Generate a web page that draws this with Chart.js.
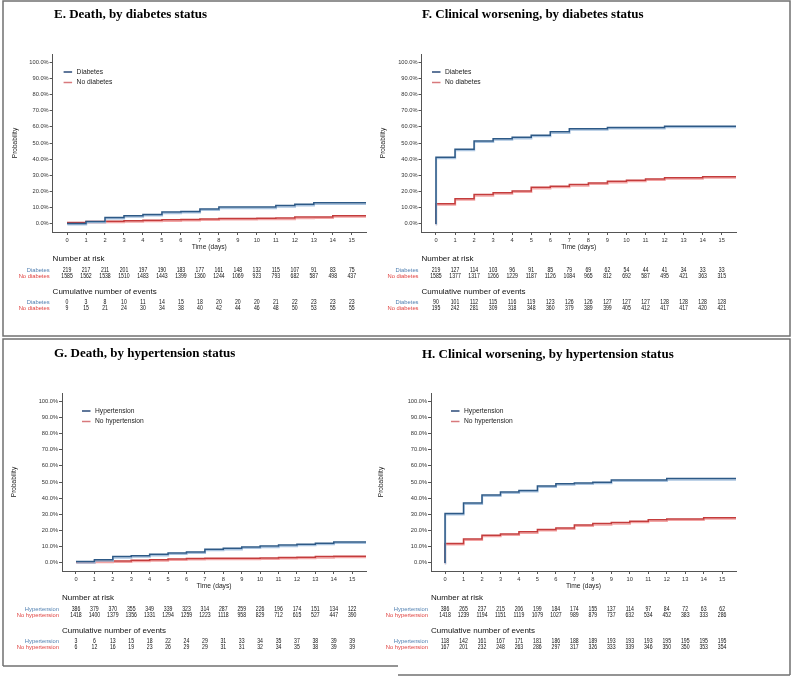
<!DOCTYPE html>
<html>
<head>
<meta charset="utf-8">
<script src="https://cdn.jsdelivr.net/npm/chart.js@4.4.1/dist/chart.umd.min.js"></script>
<style>
  body { margin: 0; background: #fff; width: 793px; height: 677px; position: relative; overflow: hidden; }
  canvas { position: absolute; }
  svg { position: absolute; left: 0; top: 0; }
</style>
</head>
<body>
<svg width="793" height="677">
  <rect x="3" y="1" width="787" height="335" fill="none" stroke="#707070" stroke-width="1.5"/>
  <polyline points="3,666 3,339 790,339 790,675" fill="none" stroke="#707070" stroke-width="1.5"/>
  <line x1="3" y1="666" x2="398" y2="666" stroke="#707070" stroke-width="1.5"/>
  <line x1="398" y1="675" x2="790" y2="675" stroke="#707070" stroke-width="1.5"/>
</svg>
<canvas id="panelE" width="392" height="332" style="left:4px;top:2px"></canvas>
<canvas id="panelF" width="414" height="332" style="left:376px;top:2px"></canvas>
<canvas id="panelG" width="392" height="329" style="left:4px;top:341px"></canvas>
<canvas id="panelH" width="414" height="329" style="left:376px;top:341px"></canvas>
<script>
// time axis (days) and y ticks
const days = [0, 1, 2, 3, 4, 5, 6, 7, 8, 9, 10, 11, 12, 13, 14, 15];
const lastDay = 15.75;
const yTicks = [0, 10, 20, 30, 40, 50, 60, 70, 80, 90, 100];

// E. Death, by diabetes status (probability %, value from each day on)
const deathDiab   = [0.3, 1.5, 4.0, 5.0, 5.8, 7.3, 7.7, 9.2, 10.4, 10.4, 10.4, 11.3, 12.1, 13.0, 13.0, 13.0];
const deathNoDiab = [0.8, 1.5, 1.7, 2.0, 2.3, 2.5, 2.8, 3.1, 3.3, 3.4, 3.5, 3.6, 4.2, 4.3, 5.0, 5.0];
const riskDiabE   = [219, 217, 211, 201, 197, 190, 183, 177, 161, 148, 132, 115, 107, 91, 83, 75];
const riskNoDiabE = [1585, 1562, 1538, 1510, 1483, 1443, 1399, 1360, 1244, 1069, 923, 793, 682, 587, 498, 437];
const evDiabE     = [0, 3, 8, 10, 11, 14, 15, 18, 20, 20, 20, 21, 22, 23, 23, 23];
const evNoDiabE   = [9, 15, 21, 24, 30, 34, 38, 40, 42, 44, 46, 48, 50, 53, 55, 55];

// F. Clinical worsening, by diabetes status
const worseDiab   = [41.2, 46.2, 51.2, 52.7, 53.5, 54.8, 56.9, 58.8, 58.8, 59.6, 59.6, 59.6, 60.4, 60.4, 60.4, 60.4];
const worseNoDiab = [12.5, 15.6, 18.1, 19.3, 20.4, 22.6, 23.3, 24.3, 25.3, 26.3, 27.0, 27.8, 28.6, 28.6, 29.2, 29.2];
const riskDiabF   = [219, 127, 114, 103, 96, 91, 85, 79, 69, 62, 54, 44, 41, 34, 33, 33];
const riskNoDiabF = [1585, 1377, 1317, 1266, 1229, 1187, 1126, 1084, 965, 812, 692, 587, 495, 421, 363, 315];
const evDiabF     = [90, 101, 112, 115, 116, 119, 123, 126, 126, 127, 127, 127, 128, 128, 128, 128];
const evNoDiabF   = [195, 242, 281, 309, 318, 348, 360, 379, 389, 399, 405, 412, 417, 417, 420, 421];

// G. Death, by hypertension status
const deathHyp    = [0.8, 2.0, 3.9, 4.5, 5.3, 6.1, 6.7, 8.4, 9.0, 9.8, 10.4, 11.0, 11.6, 12.2, 12.9, 12.9];
const deathNoHyp  = [0.6, 1.0, 1.2, 1.6, 2.0, 2.4, 2.7, 2.9, 2.9, 2.9, 3.1, 3.3, 3.5, 3.9, 4.1, 4.1];
const riskHypG    = [386, 379, 370, 355, 349, 339, 323, 314, 287, 259, 226, 196, 174, 151, 134, 122];
const riskNoHypG  = [1418, 1400, 1379, 1356, 1331, 1294, 1259, 1223, 1118, 958, 829, 712, 615, 527, 447, 390];
const evHypG      = [3, 6, 13, 15, 18, 22, 24, 29, 31, 33, 34, 35, 37, 38, 39, 39];
const evNoHypG    = [6, 12, 16, 19, 23, 26, 29, 29, 31, 31, 32, 34, 35, 38, 39, 39];

// H. Clinical worsening, by hypertension status
const worseHyp    = [30.6, 37.0, 42.0, 43.8, 44.8, 47.5, 48.9, 49.4, 49.8, 51.3, 51.3, 51.3, 52.1, 52.1, 52.1, 52.1];
const worseNoHyp  = [12.0, 14.8, 17.1, 17.9, 19.2, 20.6, 21.6, 23.5, 24.3, 24.9, 25.8, 26.6, 27.1, 27.1, 27.9, 27.9];
const riskHypH    = [386, 265, 237, 215, 206, 199, 184, 174, 155, 137, 114, 97, 84, 72, 63, 62];
const riskNoHypH  = [1418, 1239, 1194, 1151, 1119, 1079, 1027, 989, 879, 737, 632, 534, 452, 383, 333, 286];
const evHypH      = [118, 142, 161, 167, 171, 181, 186, 188, 189, 193, 193, 193, 195, 195, 195, 195];
const evNoHypH    = [167, 201, 232, 248, 263, 286, 297, 317, 326, 333, 339, 346, 350, 350, 353, 354];

const BLUE = '#2d5986', BLUE_LIGHT = '#a9c3df', RED = '#c43c3c', RED_LIGHT = '#f3a5a5';
const LBL_BLUE = '#4f7fb0', LBL_RED = '#e0413f';

function steps(vals, fromZero) {
  const pts = fromZero ? [{ x: 0, y: 0 }] : [];
  vals.forEach((v, i) => pts.push({ x: days[i], y: v }));
  pts.push({ x: lastDay, y: vals[vals.length - 1] });
  return pts;
}

// light line under each curve
const lineShadow = {
  id: 'lineShadow',
  beforeDatasetDraw(chart, args) {
    const ds = chart.data.datasets[args.index];
    const c = chart.ctx;
    c.save();
    c.shadowColor = ds.shadowColor;
    c.shadowOffsetY = 1.3;
    c.shadowOffsetX = 0.4;
    c.shadowBlur = 0;
  },
  afterDatasetDraw(chart) { chart.ctx.restore(); }
};

function narrowText(ctx, txt, x, y) {
  ctx.save();
  ctx.translate(x, y);
  ctx.scale(0.78, 1);
  ctx.fillText(txt, 0, 0);
  ctx.restore();
}

// panel title, legend and the two tables under the plot
const riskTable = {
  id: 'riskTable',
  afterDraw(chart, args, o) {
    const ctx = chart.ctx, xs = chart.scales.x, a = chart.chartArea;
    ctx.save();
    ctx.textBaseline = 'middle';
    ctx.textAlign = 'left';
    ctx.fillStyle = '#000';
    ctx.font = 'bold 13px "Liberation Serif", "Times New Roman", serif';
    ctx.fillText(o.title, o.titleX, o.titleY);

    // legend
    ctx.font = '6.7px "Liberation Sans", Arial, sans-serif';
    o.groups.forEach((g, i) => {
      const y = a.top + 18 + i * 10.5;
      ctx.strokeStyle = g.legendColor;
      ctx.lineWidth = 1.5;
      ctx.beginPath();
      ctx.moveTo(a.left + o.legendX, y);
      ctx.lineTo(a.left + o.legendX + 8.5, y);
      ctx.stroke();
      ctx.fillStyle = '#222';
      ctx.fillText(g.label, a.left + o.legendX + 13, y);
    });

    ctx.fillStyle = '#111';
    ctx.font = '8px "Liberation Sans", Arial, sans-serif';
    ctx.fillText('Number at risk', a.left, a.bottom + 26.5);
    ctx.fillText('Cumulative number of events', a.left, a.bottom + 59.5);

    [['risk', 38], ['events', 70.5]].forEach(([key, dy]) => {
      o.groups.forEach((g, i) => {
        const y = a.bottom + dy + i * 6;
        ctx.font = '5.8px "Liberation Sans", Arial, sans-serif';
        ctx.textAlign = 'right';
        ctx.fillStyle = g.textColor;
        ctx.fillText(g.label, a.left - 3, y);
        ctx.textAlign = 'center';
        ctx.fillStyle = '#111';
        ctx.font = '6.6px "Liberation Sans", Arial, sans-serif';
        g[key].forEach((v, d) => narrowText(ctx, String(v), xs.getPixelForValue(days[d]), y));
      });
    });
    ctx.restore();
  }
};

function makePanel(id, p) {
  const cv = document.getElementById(id);
  const axisColor = '#555';
  return new Chart(cv, {
    type: 'line',
    data: {
      datasets: p.groups.map(g => ({
        label: g.label,
        data: steps(g.curve, p.fromZero),
        borderColor: g.lineColor,
        shadowColor: g.shadowColor,
        borderWidth: 1.5,
        stepped: true,
        pointRadius: 0,
        fill: false
      }))
    },
    options: {
      responsive: false,
      devicePixelRatio: 1,
      animation: false,
      layout: { padding: { left: 0, top: p.top, right: cv.width - p.right, bottom: cv.height - p.bottom - 19 } },
      plugins: {
        legend: { display: false },
        tooltip: { enabled: false },
        riskTable: { title: p.title, titleX: p.titleX, titleY: p.titleY, legendX: p.legendX, groups: p.groups }
      },
      scales: {
        x: {
          type: 'linear', min: -0.76, max: lastDay,
          afterBuildTicks: s => { s.ticks = days.map(v => ({ value: v })); },
          afterFit: s => { s.height = 19; },
          ticks: { font: { size: 5.7, family: 'Liberation Sans' }, color: '#333', padding: 2, maxRotation: 0, autoSkip: false },
          grid: { drawOnChartArea: false, tickLength: 3, color: axisColor },
          border: { color: axisColor, width: 1 },
          title: { display: true, text: 'Time (days)', font: { size: 6.7, family: 'Liberation Sans' }, color: '#222', padding: 0 }
        },
        y: {
          min: -5, max: 105,
          afterBuildTicks: s => { s.ticks = yTicks.map(v => ({ value: v })); },
          afterFit: s => { s.width = p.left; },
          ticks: { font: { size: 5.7, family: 'Liberation Sans' }, color: '#333', padding: 1, callback: v => v.toFixed(1) + '%' },
          grid: { drawOnChartArea: false, tickLength: 3, color: axisColor },
          border: { color: axisColor, width: 1 },
          title: { display: true, text: 'Probability', font: { size: 6.5, family: 'Liberation Sans' }, color: '#222', padding: { top: p.yTitlePad, bottom: 0 } }
        }
      }
    },
    plugins: [lineShadow, riskTable]
  });
}

function grp(label, curve, risk, events, blue) {
  return {
    label, curve, risk, events,
    lineColor: blue ? BLUE : RED,
    shadowColor: blue ? BLUE_LIGHT : RED_LIGHT,
    legendColor: blue ? '#2a4a78' : '#d8797c',
    textColor: blue ? LBL_BLUE : LBL_RED
  };
}

makePanel('panelE', {
  title: 'E. Death, by diabetes status', titleX: 50, titleY: 13,
  left: 48.6, right: 362, top: 52, bottom: 230, legendX: 11, yTitlePad: 7, fromZero: false,
  groups: [grp('Diabetes', deathDiab, riskDiabE, evDiabE, true), grp('No diabetes', deathNoDiab, riskNoDiabE, evNoDiabE, false)]
});
makePanel('panelF', {
  title: 'F. Clinical worsening, by diabetes status', titleX: 46, titleY: 13,
  left: 45.5, right: 360, top: 52, bottom: 230, legendX: 10.5, yTitlePad: 3, fromZero: true,
  groups: [grp('Diabetes', worseDiab, riskDiabF, evDiabF, true), grp('No diabetes', worseNoDiab, riskNoDiabF, evNoDiabF, false)]
});
makePanel('panelG', {
  title: 'G. Death, by hypertension status', titleX: 50, titleY: 13,
  left: 58, right: 362, top: 52, bottom: 230, legendX: 20, yTitlePad: 6, fromZero: false,
  groups: [grp('Hypertension', deathHyp, riskHypG, evHypG, true), grp('No hypertension', deathNoHyp, riskNoHypG, evNoHypG, false)]
});
makePanel('panelH', {
  title: 'H. Clinical worsening, by hypertension status', titleX: 46, titleY: 14,
  left: 55, right: 360, top: 52, bottom: 230, legendX: 20, yTitlePad: 1.5, fromZero: true,
  groups: [grp('Hypertension', worseHyp, riskHypH, evHypH, true), grp('No hypertension', worseNoHyp, riskNoHypH, evNoHypH, false)]
});
</script>
</body>
</html>
